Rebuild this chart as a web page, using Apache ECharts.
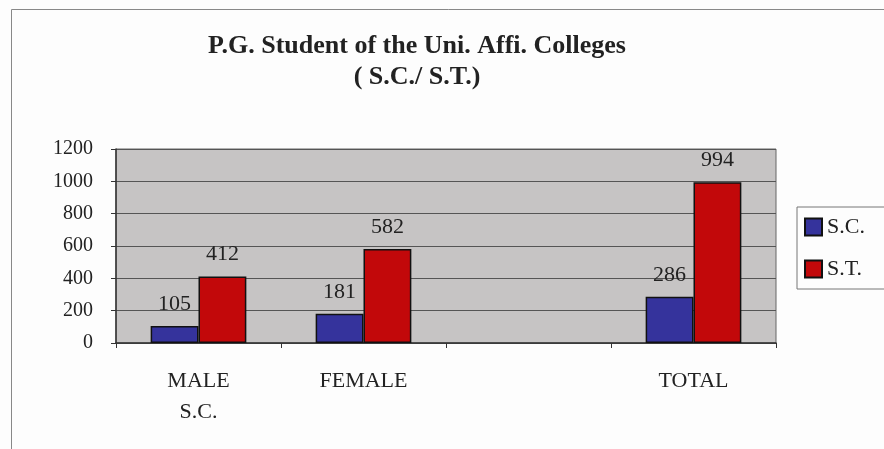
<!DOCTYPE html>
<html>
<head>
<meta charset="utf-8">
<script src="https://cdn.jsdelivr.net/npm/echarts@6/dist/echarts.min.js"></script>
<style>
html,body{margin:0;padding:0;background:#fff;}
#chart{width:884px;height:449px;}
</style>
</head>
<body>
<div id="chart"></div>
<script>
// 数据
var categories = ['MALE\nS.C.', 'FEMALE', '', 'TOTAL'];
var scValues = [105, 181, null, 286];
var stValues = [412, 582, null, 994];
var yTicks = [0, 200, 400, 600, 800, 1000, 1200];

var serif = '"Liberation Serif", "Times New Roman", serif';

var myChart = echarts.init(document.getElementById('chart'));
var option = {
	backgroundColor: '#fdfdfd',
	animation: false,
	title: {
		text: 'P.G. Student of the Uni. Affi. Colleges\n( S.C./ S.T.)',
		left: 412,
		textAlign: 'center',
		top: 26,
		textStyle: {
			fontFamily: serif,
			fontWeight: 'bold',
			fontSize: 26,
			lineHeight: 31,
			color: '#222'
		}
	},
	graphic: [{
		type: 'rect',
		shape: {x: 11.5, y: 9.5, width: 900, height: 500},
		style: {fill: 'none', stroke: '#888', lineWidth: 1},
		silent: true
	}],
	legend: {
		orient: 'vertical',
		left: 797,
		top: 207,
		padding: [9, 24, 9, 7],
		icon: 'rect',
		itemWidth: 17,
		itemHeight: 17,
		itemGap: 20,
		borderColor: '#777',
		borderWidth: 1,
		textStyle: {fontFamily: serif, fontSize: 22, lineHeight: 22, color: '#222'},
		data: ['S.C.', 'S.T.']
	},
	grid: {
		left: 116,
		right: 108,
		top: 149,
		bottom: 106,
		show: true,
		backgroundColor: '#c6c4c4',
		borderColor: '#666',
		borderWidth: 1
	},
	xAxis: {
		type: 'category',
		data: categories,
		axisLine: {lineStyle: {color: '#333', width: 1.5}},
		axisTick: {show: true, length: 5, lineStyle: {color: '#333'}},
		axisLabel: {
			fontFamily: serif,
			fontSize: 22,
			lineHeight: 31,
			color: '#222',
			margin: 23,
			interval: 0
		}
	},
	yAxis: {
		type: 'value',
		min: yTicks[0],
		max: yTicks[yTicks.length - 1],
		interval: 200,
		axisLine: {show: true, lineStyle: {color: '#333', width: 1.5}},
		axisTick: {show: true, length: 5, lineStyle: {color: '#333'}},
		splitLine: {lineStyle: {color: '#555', width: 1}},
		axisLabel: {
			fontFamily: serif,
			fontSize: 20,
			color: '#222',
			margin: 23,
			formatter: function (v) { return String(v); }
		}
	},
	series: [
		{
			name: 'S.C.',
			type: 'bar',
			data: scValues,
			barGap: '0%',
			barCategoryGap: '42%',
			itemStyle: {color: '#35339c', borderColor: '#111', borderWidth: 1.5},
			label: {show: true, position: 'top', distance: 11, fontFamily: serif, fontSize: 22, color: '#222'}
		},
		{
			name: 'S.T.',
			type: 'bar',
			data: stValues,
			itemStyle: {color: '#c2080a', borderColor: '#111', borderWidth: 1.5},
			label: {show: true, position: 'top', distance: 11, fontFamily: serif, fontSize: 22, color: '#222'}
		}
	]
};

myChart.setOption(option);
</script>
</body>
</html>
